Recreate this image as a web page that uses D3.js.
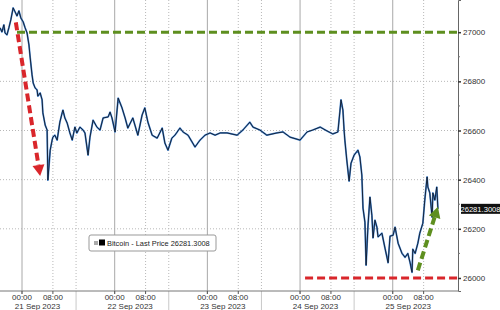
<!DOCTYPE html>
<html>
<head>
<meta charset="utf-8">
<script src="https://cdn.jsdelivr.net/npm/d3@7"></script>
<style>
  body { margin: 0; background: #fff; }
  text { font-family: "Liberation Sans", Arial, sans-serif; }
</style>
</head>
<body>
<div id="chart"></div>
<script>
// hours since 21 Sep 2023 00:00
var hours = [-5.7,-5.2,-4.7,-4.4,-3.9,-3.4,-2.9,-2.3,-1.8,-1.3,-0.8,-0.3,0.3,0.8,1.3,1.8,2.1,2.6,2.9,3.4,
  3.9,4.1,4.7,5.2,5.4,6.0,6.5,6.7,7.3,7.8,8.0,8.5,9.1,9.8,10.4,10.6,11.1,11.7,12.4,13.0,
  13.7,14.2,15.0,15.8,16.3,17.1,17.6,18.4,19.4,20.2,21.0,22.3,22.8,23.3,24.1,24.9,25.9,26.7,27.4,28.7,
  30.0,31.1,31.8,32.6,33.7,35.0,36.3,37.0,37.8,38.8,39.6,40.9,41.7,43.0,44.8,46.1,47.4,48.7,50.0,51.3,
  53.1,55.7,57.2,59.0,59.8,61.6,63.4,66.0,67.6,69.4,72.0,73.8,75.3,77.2,79.0,80.5,81.8,82.3,82.6,83.1,
  83.4,83.6,84.1,84.7,85.2,86.0,87.0,87.5,88.0,88.3,88.8,89.1,89.6,90.1,90.6,90.9,91.4,91.9,92.2,93.2,
  94.0,94.8,95.3,96.1,96.6,97.4,98.4,99.2,99.9,100.5,101.0,101.2,101.8,102.5,103.0,103.8,104.3,104.9,105.1,105.6,
  106.2,106.4,106.9,107.4,107.7];
var prices = [27018,27001,27030,26997,26989,27018,27050,27099,27083,27066,27087,27058,27042,27018,26997,26948,26899,26826,26793,26773,
  26765,26740,26753,26725,26672,26622,26602,26398,26520,26561,26573,26581,26561,26634,26672,26683,26651,26630,26590,26561,
  26614,26590,26614,26602,26590,26500,26573,26642,26614,26602,26651,26655,26675,26651,26594,26732,26692,26651,26610,26651,
  26581,26663,26692,26634,26581,26569,26610,26549,26520,26569,26581,26610,26594,26581,26533,26561,26581,26590,26581,26590,
  26590,26581,26602,26634,26614,26602,26581,26590,26594,26573,26561,26594,26602,26614,26598,26586,26594,26675,26725,26683,
  26602,26561,26480,26394,26467,26500,26520,26492,26419,26284,26227,26052,26215,26329,26255,26163,26235,26207,26167,26182,
  26121,26062,26170,26174,26207,26141,26100,26084,26100,26062,26023,26117,26100,26141,26182,26223,26317,26411,26370,26346,
  26247,26346,26317,26370,26281.3008];

var days = ["21 Sep 2023", "22 Sep 2023", "23 Sep 2023", "24 Sep 2023", "25 Sep 2023"];
var yTicks = [26000, 26200, 26400, 26600, 26800, 27000];
var lastPrice = 26281.3008;
var seriesName = "Bitcoin - Last Price";

var width = 500, height = 310;
var plotRight = 458, plotBottom = 291;

var base = new Date(2023, 8, 21, 0, 0);
function hToDate(h) { return new Date(base.getTime() + h * 3600000); }

var data = hours.map(function(h, i) { return { t: hToDate(h), v: prices[i] }; });

var x = d3.scaleTime()
  .domain([hToDate(-5.7), hToDate(112.9)])
  .range([0, plotRight]);
var y = d3.scaleLinear()
  .domain([25947, 27131])
  .range([plotBottom, 0]);

var svg = d3.select("#chart").append("svg")
  .attr("width", width).attr("height", height);

// grid
var grid = svg.append("g");
grid.selectAll("line.h").data(yTicks.slice(1, 5)).enter().append("line")
  .attr("x1", 0).attr("x2", plotRight)
  .attr("y1", function(d) { return y(d); }).attr("y2", function(d) { return y(d); })
  .attr("stroke", "#b8b8b8").attr("stroke-dasharray", "1,2");

var midnights = days.map(function(d, i) { return hToDate(i * 24); });
var eights = days.map(function(d, i) { return hToDate(i * 24 + 8); });
var seps = days.slice(0, 4).map(function(d, i) { return hToDate(i * 24 + 14); });

grid.selectAll("line.m").data(midnights).enter().append("line")
  .attr("x1", function(d) { return x(d); }).attr("x2", function(d) { return x(d); })
  .attr("y1", 0).attr("y2", plotBottom + 3)
  .attr("stroke", "#a8a8a8").attr("stroke-width", 1);
grid.selectAll("line.e").data(eights.concat(seps)).enter().append("line")
  .attr("x1", function(d) { return x(d); }).attr("x2", function(d) { return x(d); })
  .attr("y1", 0).attr("y2", plotBottom)
  .attr("stroke", "#b8b8b8").attr("stroke-dasharray", "1,2");
grid.selectAll("line.s").data(seps).enter().append("line")
  .attr("x1", function(d) { return x(d); }).attr("x2", function(d) { return x(d); })
  .attr("y1", plotBottom).attr("y2", height)
  .attr("stroke", "#c8c8c8");

// price line
var line = d3.line()
  .x(function(d) { return x(d.t); })
  .y(function(d) { return y(d.v); });
svg.append("path").datum(data)
  .attr("d", line).attr("fill", "none")
  .attr("stroke", "#4a8ad6").attr("stroke-width", 1.8).attr("stroke-linejoin", "round");
svg.append("path").datum(data)
  .attr("d", line).attr("fill", "none")
  .attr("stroke", "#101828").attr("stroke-width", 0.9).attr("stroke-linejoin", "round");

// x axis
svg.append("line").attr("x1", 0).attr("x2", plotRight)
  .attr("y1", plotBottom).attr("y2", plotBottom).attr("stroke", "#777");
var xl = svg.append("g").attr("font-size", 8).attr("fill", "#333").attr("text-anchor", "middle");
days.forEach(function(d, i) {
  xl.append("text").attr("x", x(hToDate(i * 24))).attr("y", 300).text("00:00");
  xl.append("text").attr("x", x(hToDate(i * 24 + 8))).attr("y", 300).text("08:00");
  xl.append("text").attr("x", x(hToDate(i * 24 + 4))).attr("y", 309).text(d);
  [0, 8].forEach(function(o) {
    svg.append("line").attr("x1", x(hToDate(i * 24 + o))).attr("x2", x(hToDate(i * 24 + o)))
      .attr("y1", plotBottom).attr("y2", plotBottom + 3).attr("stroke", "#555");
  });
});

// y axis on the right
var yAxis = d3.axisRight(y).tickValues(yTicks).tickSize(3).tickFormat(d3.format("d"));
var ya = svg.append("g").attr("transform", "translate(" + plotRight + ",0)").call(yAxis);
ya.select(".domain").attr("stroke", "#666");
ya.selectAll(".tick line").attr("stroke", "#333").attr("stroke-width", 1.5);
ya.selectAll("text").attr("font-size", 8).attr("fill", "#333")
  .attr("font-family", "Liberation Sans, Arial, sans-serif").attr("x", 5);
var minor = d3.range(26100, 27100, 200);
ya.selectAll("line.minor").data(minor).enter().append("line")
  .attr("x1", 0).attr("x2", 2)
  .attr("y1", function(d) { return y(d); }).attr("y2", function(d) { return y(d); })
  .attr("stroke", "#777");

// last price tag
svg.append("rect").attr("x", 461).attr("y", y(lastPrice) - 5).attr("width", 39).attr("height", 10)
  .attr("fill", "#111");
svg.append("text").attr("x", 480.5).attr("y", y(lastPrice) + 3)
  .attr("text-anchor", "middle").attr("font-size", 7.6).attr("fill", "#fff")
  .text(d3.format(".4f")(lastPrice));

// annotation levels
svg.append("line")
  .attr("x1", x(hToDate(-1.3))).attr("x2", plotRight)
  .attr("y1", y(27000)).attr("y2", y(27000))
  .attr("stroke", "#5e8f1f").attr("stroke-width", 3).attr("stroke-dasharray", "8,4");
svg.append("line")
  .attr("x1", x(hToDate(73.3))).attr("x2", plotRight)
  .attr("y1", y(26000)).attr("y2", y(26000))
  .attr("stroke", "#d9262b").attr("stroke-width", 3).attr("stroke-dasharray", "8,4");

// dashed arrows
function arrow(h0, v0, h1, v1, color) {
  var x0 = x(hToDate(h0)), y0 = y(v0), x1 = x(hToDate(h1)), y1 = y(v1);
  var ang = Math.atan2(y1 - y0, x1 - x0);
  var hl = 11, hw = 6;
  var bx = x1 - hl * Math.cos(ang), by = y1 - hl * Math.sin(ang);
  svg.append("line").attr("x1", x0).attr("y1", y0).attr("x2", bx).attr("y2", by)
    .attr("stroke", color).attr("stroke-width", 4).attr("stroke-dasharray", "8,4");
  var px = -Math.sin(ang) * hw, py = Math.cos(ang) * hw;
  svg.append("path")
    .attr("d", "M" + x1 + "," + y1 + "L" + (bx + px) + "," + (by + py) + "L" + (bx - px) + "," + (by - py) + "Z")
    .attr("fill", color);
}
arrow(-1.6, 27040, 4.7, 26415, "#d9262b");
arrow(102.5, 26031, 107.7, 26290, "#5e8f1f");

// legend
var lg = svg.append("g").attr("transform", "translate(89,235)");
lg.append("rect").attr("width", 127).attr("height", 16).attr("rx", 2)
  .attr("fill", "#fff").attr("stroke", "#999");
lg.append("rect").attr("x", 5).attr("y", 6).attr("width", 4).attr("height", 4).attr("fill", "#aaa");
lg.append("rect").attr("x", 10).attr("y", 4.5).attr("width", 6).attr("height", 6).attr("fill", "#000");
lg.append("text").attr("x", 18).attr("y", 10.8).attr("font-size", 7.4).attr("fill", "#222")
  .text(seriesName + " " + d3.format(".4f")(lastPrice));
</script>
</body>
</html>
